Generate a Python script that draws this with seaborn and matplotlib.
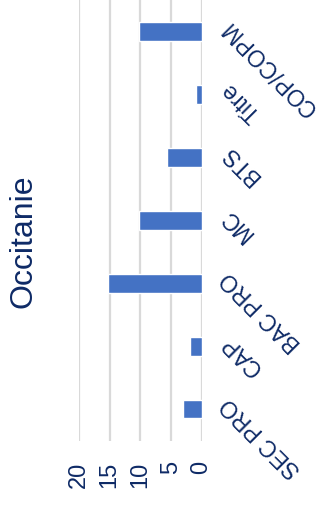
import matplotlib
matplotlib.use("Agg")
import matplotlib.pyplot as plt
import pandas as pd
import seaborn as sns

# categories listed top to bottom as they appear in the (rotated) chart
CATEGORIES = ["COP/COPM", "Titre", "BTS", "MC", "BAC PRO", "CAP", "SEC PRO"]
VALUES = [10.2, 0.9, 5.6, 10.2, 15.3, 1.8, 3.1]
X_TICKS = [0, 5, 10, 15, 20]
TITLE = "Occitanie"

BAR_COLOR = "#4472C4"
TEXT_COLOR = "#0E2A66"
GRID_COLOR = "#D9D9D9"

sns.set_style("white")
plt.rcParams["font.family"] = ["Liberation Sans", "DejaVu Sans"]

df = pd.DataFrame({"cat": CATEGORIES, "val": VALUES})

fig = plt.figure(figsize=(3.21, 5.26), dpi=100)
ax = fig.add_axes([79 / 321, 1 - 440.5 / 526, (201.5 - 79) / 321, 440.5 / 526])

sns.barplot(data=df, x="val", y="cat", orient="h", color=BAR_COLOR,
            width=0.3, saturation=1, ax=ax, zorder=3)

ax.set_xlim(20, 0)
ax.set_xticks(X_TICKS)
ax.set_xticklabels([str(t) for t in X_TICKS], rotation=90, color=TEXT_COLOR,
                   fontsize=17)
ax.grid(axis="x", color=GRID_COLOR, lw=1.6, zorder=0)
ax.grid(axis="y", visible=False)
for s in ax.spines.values():
    s.set_visible(False)

ax.yaxis.tick_right()
ax.tick_params(axis="x", length=0, pad=15)
ax.tick_params(axis="y", length=0, pad=11, labelright=True, labelleft=False)
for lab in ax.get_yticklabels():
    lab.set_rotation(135)
    lab.set_rotation_mode("anchor")
    lab.set_ha("right")
    lab.set_va("top")
    lab.set_color(TEXT_COLOR)
    lab.set_fontsize(16.5)

ax.set_xlabel("")
ax.set_ylabel("")

fig.text(24 / 321, 1 - 241 / 526, TITLE, rotation=90, ha="center", va="center",
         fontsize=23, color=TEXT_COLOR)

fig.savefig("out.png", dpi=100)
